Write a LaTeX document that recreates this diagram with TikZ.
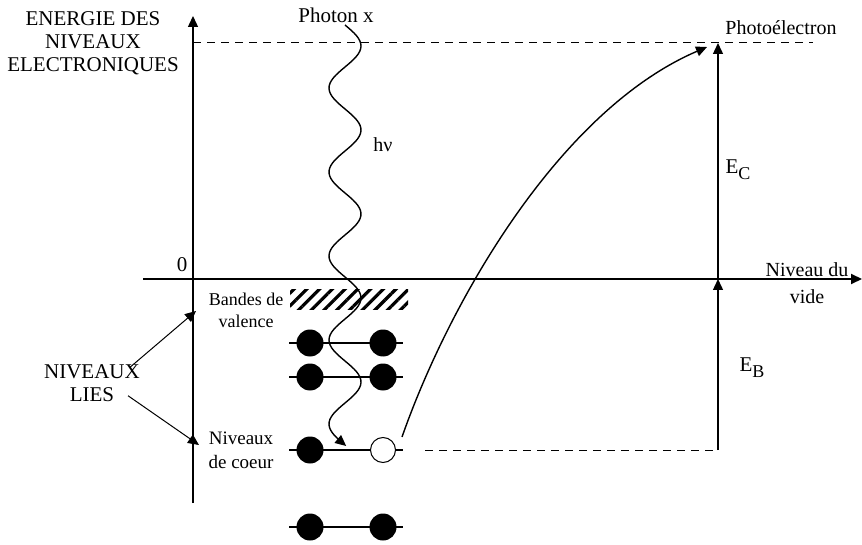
\documentclass[tikz,border=0pt]{standalone}
\usepackage{fontspec}
\setmainfont{Liberation Serif}
\usetikzlibrary{arrows.meta,positioning,patterns.meta,calc}

\begin{document}
\begin{tikzpicture}[
  x=1pt,y=-1pt,
  txt/.style={font=\fontsize{21}{23}\selectfont,align=center,inner sep=0pt},
  small/.style={font=\fontsize{18}{22}\selectfont,align=center,inner sep=0pt},
  mid/.style={font=\fontsize{20}{27}\selectfont,align=center,inner sep=0pt},
  arr/.style={line width=1.4pt,-{Triangle[length=11pt,width=10pt]}},
  niv/.style={dash pattern=on 8pt off 6pt,line width=1pt},
  level/.style={line width=1.3pt},
  dot/.style={circle,fill=black,minimum size=27pt,inner sep=0pt},
  emptydot/.style={circle,draw=black,fill=white,line width=1pt,minimum size=25pt,inner sep=0pt},
  photon/.style={line width=1.4pt,-{Triangle[length=11pt,width=10pt]}}
]
\useasboundingbox (0,0) rectangle (862,545);

% axes
\coordinate (ybot) at (193,503);
\coordinate (ytop) at (193,16);
\coordinate (xleft) at (143,279);
\coordinate (xright) at (862,279);
\draw[arr] (ybot) -- (ytop);
\draw[arr,line width=2pt] (xleft) -- (xright);

\node[txt] (energie) at (93,43) {ENERGIE DES\\NIVEAUX\\ELECTRONIQUES};
\node[txt] (zero) at (182,265) {0};
\node[mid] (vide) at (807,283) {Niveau du\\vide};

% levels
\coordinate (top0) at (193,43);
\coordinate (top1) at (813,43);
\draw[niv] (top0) -- (top1);
\coordinate (core0) at (425,450);
\coordinate (core1) at (718,450);
\draw[niv] (core0) -- (core1);

% valence band
\fill[pattern={Lines[angle=45,distance=9pt,line width=3.2pt]}] (290,290) rectangle (408,310);
\node[small] (bandes) at (246,310) {Bandes de\\valence};
\node[small,font=\fontsize{19}{24}\selectfont] (coeur) at (241,450) {Niveaux\\de coeur};

\foreach \y/\n in {343/a,377/b,450/c,527/d} {
  \coordinate (l\n) at (289,\y);
  \coordinate (r\n) at (403,\y);
  \draw[level] (l\n) -- (r\n);
  \node[dot] (e\n1) at (310,\y) {};
}
\node[dot] (ea2) at (383,343) {};
\node[dot] (eb2) at (383,377) {};
\node[dot] (ed2) at (383,527) {};
\node[emptydot] (hole) at (383,450) {};

% photon
\node[txt] (photon) at (336,15) {Photon x};
\draw[photon] plot[domain=25:446,samples=160,smooth] ({345+16*sin(4.285714*(\x-25))},\x);
\node[mid] (hnu) at (383,145) {hν};

% photoelectron
\coordinate (pe) at (707,47);
\draw[arr] ($(hole)+(19,-13)$) .. controls (450,300) and (560,110) .. (pe);
\node[mid] (photoel) at (781,28) {Photoélectron};

% energies
\coordinate (ec0) at (718,279);
\coordinate (ec1) at (718,43);
\draw[arr] (ec0) -- (ec1);
\coordinate (eb1) at (718,279);
\draw[arr] (core1) -- (eb1);
\node[txt] (ecl) at (738,170) {E\raisebox{-6pt}{\fontsize{18}{18}\selectfont C}};
\node[txt] (ebl) at (752,368) {E\raisebox{-6pt}{\fontsize{18}{18}\selectfont B}};

% bound levels
\node[txt] (lies) at (92,383) {NIVEAUX\\LIES};
\coordinate (val) at (196,311);
\coordinate (cor) at (199,445);
\draw[arr,line width=1pt] ($(lies.north east)+(-10,3)$) -- (val);
\draw[arr,line width=1pt] ($(lies.south east)+(-12,-6)$) -- (cor);
\end{tikzpicture}
\end{document}
